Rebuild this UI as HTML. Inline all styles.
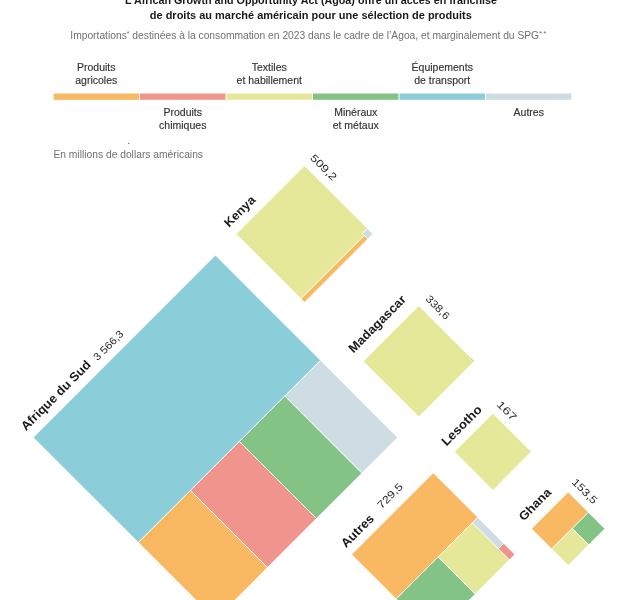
<!DOCTYPE html>
<html><head><meta charset="utf-8"><style>
html,body{margin:0;padding:0;background:#fff;}
svg{display:block;font-family:"Liberation Sans", sans-serif;filter:blur(0.35px);}
</style></head><body>
<svg width="625" height="600" viewBox="0 0 625 600">
<rect width="625" height="600" fill="#fff"/>
<text x="125" y="4.2" font-weight="bold" font-size="11.5" fill="#1a1a1a" textLength="372" lengthAdjust="spacingAndGlyphs">L’African Growth and Opportunity Act (Agoa) offre un accès en franchise</text>
<text x="149.8" y="19.2" font-weight="bold" font-size="11.5" fill="#1a1a1a" textLength="322" lengthAdjust="spacingAndGlyphs">de droits au marché américain pour une sélection de produits</text>
<text x="70.3" y="39.2" font-size="10.3" fill="#707070" textLength="477" lengthAdjust="spacingAndGlyphs">Importations<tspan font-size="7" dy="-3.5">*</tspan><tspan dy="3.5"> destinées à la consommation en 2023 dans le cadre de l’Agoa, et marginalement du SPG</tspan><tspan font-size="8" dy="-3.2" letter-spacing="1">**</tspan></text>
<rect x="53.50" y="93.5" width="85.5" height="6.3" fill="#F8B962"/><rect x="140.00" y="93.5" width="85.5" height="6.3" fill="#F0958D"/><rect x="226.50" y="93.5" width="85.5" height="6.3" fill="#E6E899"/><rect x="313.00" y="93.5" width="85.5" height="6.3" fill="#83C486"/><rect x="399.50" y="93.5" width="85.5" height="6.3" fill="#8BCDD8"/><rect x="486.00" y="93.5" width="85.5" height="6.3" fill="#CEDDE4"/>
<text x="96.25" y="71.3" text-anchor="middle" font-size="10.5" fill="#333" stroke="#333" stroke-width="0.15">Produits</text><text x="96.25" y="83.5" text-anchor="middle" font-size="10.5" fill="#333" stroke="#333" stroke-width="0.15">agricoles</text><text x="269.25" y="71.3" text-anchor="middle" font-size="10.5" fill="#333" stroke="#333" stroke-width="0.15">Textiles</text><text x="269.25" y="83.5" text-anchor="middle" font-size="10.5" fill="#333" stroke="#333" stroke-width="0.15">et habillement</text><text x="442.25" y="71.3" text-anchor="middle" font-size="10.5" fill="#333" stroke="#333" stroke-width="0.15">Équipements</text><text x="442.25" y="83.5" text-anchor="middle" font-size="10.5" fill="#333" stroke="#333" stroke-width="0.15">de transport</text><text x="182.75" y="116.3" text-anchor="middle" font-size="10.5" fill="#333" stroke="#333" stroke-width="0.15">Produits</text><text x="182.75" y="128.5" text-anchor="middle" font-size="10.5" fill="#333" stroke="#333" stroke-width="0.15">chimiques</text><text x="355.75" y="116.3" text-anchor="middle" font-size="10.5" fill="#333" stroke="#333" stroke-width="0.15">Minéraux</text><text x="355.75" y="128.5" text-anchor="middle" font-size="10.5" fill="#333" stroke="#333" stroke-width="0.15">et métaux</text><text x="528.75" y="116.3" text-anchor="middle" font-size="10.5" fill="#333" stroke="#333" stroke-width="0.15">Autres</text>
<text x="53.4" y="157.6" font-size="10.2" fill="#707070" textLength="149.6" lengthAdjust="spacingAndGlyphs">En millions de dollars américains</text>
<circle cx="128.7" cy="143.4" r="0.6" fill="#555"/>
<g transform="translate(215.45,437.40) rotate(-45)">
<rect x="-128.55" y="-128.55" width="257.10" height="148.30" fill="#8BCDD8"/>
<rect x="-128.55" y="19.75" width="73.30" height="108.80" fill="#F8B962"/>
<rect x="-55.25" y="19.75" width="69.30" height="108.80" fill="#F0958D"/>
<rect x="14.05" y="19.75" width="64.20" height="108.80" fill="#83C486"/>
<rect x="78.25" y="19.75" width="50.30" height="108.80" fill="#CEDDE4"/>
<line x1="-128.55" y1="19.75" x2="-55.25" y2="19.75" stroke="#fff" stroke-width="0.9"/>
<line x1="-55.25" y1="19.75" x2="-55.25" y2="128.55" stroke="#fff" stroke-width="0.9"/>
<line x1="-55.25" y1="19.75" x2="14.05" y2="19.75" stroke="#fff" stroke-width="0.9"/>
<line x1="14.05" y1="19.75" x2="14.05" y2="128.55" stroke="#fff" stroke-width="0.9"/>
<line x1="14.05" y1="19.75" x2="78.25" y2="19.75" stroke="#fff" stroke-width="0.9"/>
<line x1="78.25" y1="19.75" x2="78.25" y2="128.55" stroke="#fff" stroke-width="0.9"/>
<line x1="78.25" y1="19.75" x2="128.55" y2="19.75" stroke="#fff" stroke-width="0.9"/>
</g>
<g transform="translate(304.50,234.00) rotate(-45)">
<rect x="-48.08" y="-48.08" width="96.17" height="91.37" fill="#E6E899"/>
<rect x="-48.08" y="43.28" width="89.37" height="4.80" fill="#F8B962"/>
<rect x="41.28" y="40.58" width="6.80" height="7.50" fill="#CEDDE4"/>
<line x1="-48.08" y1="43.28" x2="41.28" y2="43.28" stroke="#fff" stroke-width="0.9"/>
<line x1="41.28" y1="40.58" x2="41.28" y2="48.08" stroke="#fff" stroke-width="0.9"/>
<line x1="41.28" y1="40.58" x2="48.08" y2="40.58" stroke="#fff" stroke-width="0.9"/>
</g>
<g transform="translate(418.80,361.20) rotate(-45)">
<rect x="-39.03" y="-39.03" width="78.06" height="78.06" fill="#E6E899"/>
<rect x="38.03" y="35.03" width="1.00" height="4.00" fill="#83C486"/>
<line x1="38.03" y1="35.03" x2="38.03" y2="39.03" stroke="#fff" stroke-width="0.9"/>
<line x1="38.03" y1="35.03" x2="39.03" y2="35.03" stroke="#fff" stroke-width="0.9"/>
</g>
<g transform="translate(492.90,451.80) rotate(-45)">
<rect x="-26.94" y="-26.94" width="53.88" height="53.88" fill="#E6E899"/>
</g>
<g transform="translate(568.20,528.70) rotate(-45)">
<rect x="-25.67" y="-25.67" width="51.34" height="28.30" fill="#F8B962"/>
<rect x="-25.67" y="2.63" width="28.84" height="23.04" fill="#E6E899"/>
<rect x="3.17" y="2.63" width="22.50" height="23.04" fill="#83C486"/>
<line x1="-25.67" y1="2.63" x2="3.17" y2="2.63" stroke="#fff" stroke-width="0.9"/>
<line x1="3.17" y1="2.63" x2="3.17" y2="25.67" stroke="#fff" stroke-width="0.9"/>
<line x1="3.17" y1="2.63" x2="25.67" y2="2.63" stroke="#fff" stroke-width="0.9"/>
</g>
<g transform="translate(433.25,554.40) rotate(-45)">
<rect x="-57.45" y="-57.45" width="114.90" height="62.70" fill="#F8B962"/>
<rect x="-57.45" y="5.25" width="59.00" height="52.20" fill="#83C486"/>
<rect x="1.55" y="5.25" width="48.40" height="52.20" fill="#E6E899"/>
<rect x="49.95" y="5.25" width="7.50" height="36.70" fill="#CEDDE4"/>
<rect x="49.95" y="41.95" width="7.50" height="15.50" fill="#F0958D"/>
<line x1="-57.45" y1="5.25" x2="1.55" y2="5.25" stroke="#fff" stroke-width="0.9"/>
<line x1="1.55" y1="5.25" x2="1.55" y2="57.45" stroke="#fff" stroke-width="0.9"/>
<line x1="1.55" y1="5.25" x2="49.95" y2="5.25" stroke="#fff" stroke-width="0.9"/>
<line x1="49.95" y1="5.25" x2="49.95" y2="41.95" stroke="#fff" stroke-width="0.9"/>
<line x1="49.95" y1="5.25" x2="57.45" y2="5.25" stroke="#fff" stroke-width="0.9"/>
<line x1="49.95" y1="41.95" x2="49.95" y2="57.45" stroke="#fff" stroke-width="0.9"/>
<line x1="49.95" y1="41.95" x2="57.45" y2="41.95" stroke="#fff" stroke-width="0.9"/>
</g>
<text transform="translate(25.90,431.30) rotate(-45)" font-weight="bold" font-size="12.5" fill="#1a1a1a" textLength="93.04" lengthAdjust="spacingAndGlyphs">Afrique du Sud</text>
<text transform="translate(97.56,361.36) rotate(-45)" font-weight="normal" font-size="10.5" fill="#2a2a2a" textLength="37.81" lengthAdjust="spacingAndGlyphs">3 566,3</text>
<text transform="translate(229.00,227.80) rotate(-45)" font-weight="bold" font-size="12.2" fill="#1a1a1a" textLength="38.47" lengthAdjust="spacingAndGlyphs">Kenya</text>
<text transform="translate(309.62,158.38) rotate(45)" font-weight="normal" font-size="10.5" fill="#2a2a2a" textLength="32.43" lengthAdjust="spacingAndGlyphs">509,2</text>
<text transform="translate(353.59,353.39) rotate(-45)" font-weight="bold" font-size="12.5" fill="#1a1a1a" textLength="75.20" lengthAdjust="spacingAndGlyphs">Madagascar</text>
<text transform="translate(424.99,299.61) rotate(45)" font-weight="normal" font-size="10.5" fill="#2a2a2a" textLength="29.13" lengthAdjust="spacingAndGlyphs">338,6</text>
<text transform="translate(446.40,446.60) rotate(-45)" font-weight="bold" font-size="12.5" fill="#1a1a1a" textLength="51.31" lengthAdjust="spacingAndGlyphs">Lesotho</text>
<text transform="translate(496.07,404.93) rotate(45)" font-weight="normal" font-size="10.5" fill="#2a2a2a" textLength="23.33" lengthAdjust="spacingAndGlyphs">167</text>
<text transform="translate(523.66,521.46) rotate(-45)" font-weight="bold" font-size="12.2" fill="#1a1a1a" textLength="40.07" lengthAdjust="spacingAndGlyphs">Ghana</text>
<text transform="translate(571.27,482.73) rotate(45)" font-weight="normal" font-size="10.5" fill="#2a2a2a" textLength="31.08" lengthAdjust="spacingAndGlyphs">153,5</text>
<text transform="translate(345.90,548.30) rotate(-45)" font-weight="bold" font-size="12.5" fill="#1a1a1a" textLength="40.97" lengthAdjust="spacingAndGlyphs">Autres</text>
<text transform="translate(381.53,509.33) rotate(-45)" font-weight="normal" font-size="10.5" fill="#2a2a2a" textLength="31.20" lengthAdjust="spacingAndGlyphs">729,5</text>
</svg>
</body></html>
